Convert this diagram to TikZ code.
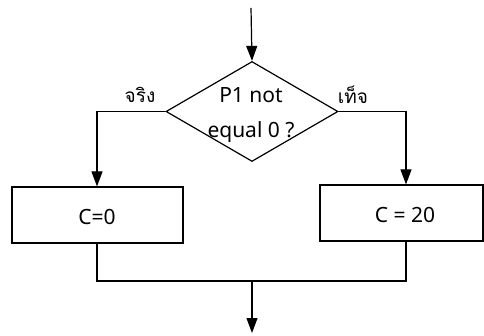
\documentclass[tikz,border=0pt]{standalone}
\usepackage{fontspec}
\setmainfont{Noto Sans}
\newfontfamily\thaifont[Script=Thai]{Loma}
\usetikzlibrary{shapes.geometric,arrows.meta}
\begin{document}
\begin{tikzpicture}[x=1pt,y=-1pt,line width=1.2pt,
  arr/.style={-{Triangle[length=15pt,width=11pt]}},
  dia/.style={draw,diamond,minimum width=172pt,minimum height=100pt,inner sep=0pt},
  procbox/.style={draw,rectangle,inner sep=0pt},
  txt/.style={font=\fontsize{21}{24}\selectfont,inner sep=0pt},
  thai/.style={font=\thaifont\fontsize{19}{22}\selectfont,inner sep=0pt}]
\useasboundingbox (0,0) rectangle (484,336);
\coordinate (start) at (251,8);
\node[dia] (d) at (252,111.5) {};
\node[txt] (t1) at (251,95) {P1 not};
\node[txt] (t2) at (251,132) {equal 0 ?};
\node[procbox,minimum width=171pt,minimum height=56pt] (lb) at (97.5,215) {};
\node[txt] (lbt) at (97,217) {C=0};
\node[procbox,minimum width=163pt,minimum height=56pt] (rb) at (401.5,213) {};
\node[txt] (rbt) at (405,215) {C = 20};
\node[thai] (yes) at (140,95) {จริง};
\node[thai] (no) at (353,95) {เท็จ};
\coordinate (lc) at (97,111.5);
\coordinate (rc) at (406,111.5);
\coordinate (lj) at (97,281);
\coordinate (rj) at (406,281);
\coordinate (mj) at (252,281);
\coordinate (stop) at (252,333);
\draw[arr] (start) -- (d.north);
\draw[arr] (d.west) -- (lc) -- (lc |- lb.north);
\draw[arr] (d.east) -- (rc) -- (rc |- rb.north);
\draw (lb.south -| lj) -- (lj) -- (rj) -- (rb.south -| rj);
\draw[arr] (mj) -- (stop);
\end{tikzpicture}
\end{document}
